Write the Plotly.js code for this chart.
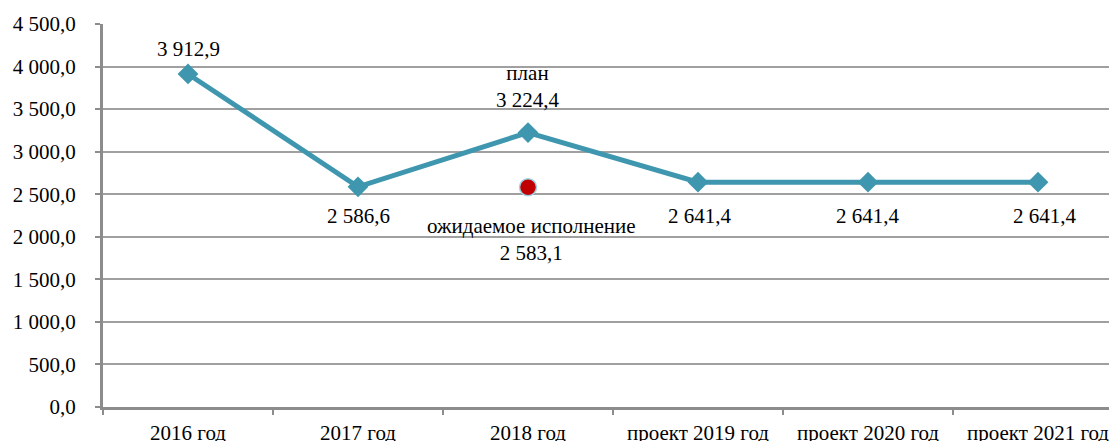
<!DOCTYPE html>
<html>
<head>
<meta charset="utf-8">
<script src="https://cdn.plot.ly/plotly-3.0.1.min.js"></script>
<style>
  html, body { margin: 0; padding: 0; background: #fff; }
  #chart { width: 1109px; height: 441px; }
</style>
</head>
<body>
<div id="chart"></div>
<script>
// ---- data ----
const categories = ["2016 год", "2017 год", "2018 год", "проект 2019 год", "проект 2020 год", "проект 2021 год"];
const planValues = [3912.9, 2586.6, 3224.4, 2641.4, 2641.4, 2641.4];
const expectedCategory = ["2018 год"];
const expectedValues = [2583.1];
const yTickVals = [0, 500, 1000, 1500, 2000, 2500, 3000, 3500, 4000, 4500];
const yTickText = ["0,0", "500,0", "1 000,0", "1 500,0", "2 000,0", "2 500,0", "3 000,0", "3 500,0", "4 000,0", "4 500,0"];
const planPrefix = ["", "", "план", "", "", ""];
const expectedPrefix = ["ожидаемое исполнение"];

function fmt(v) {
  const s = v.toFixed(1);
  let [i, d] = s.split(".");
  i = i.replace(/\B(?=(\d{3})+(?!\d))/g, " ");
  return i + "," + d;
}

const FONT = "Liberation Serif";
const LINE = "#3F97AF";

const planShift = [25, -29, 46, -34, -34, -34];
const planXShift = [0, 0, 0, 2, 0, 7];
const annotations = [];
categories.forEach((c, i) => {
  const txt = planPrefix[i] ? planPrefix[i] + "<br>" + fmt(planValues[i]) : fmt(planValues[i]);
  annotations.push({
    x: c, y: planValues[i], xref: "x", yref: "y",
    text: txt, showarrow: false,
    yshift: planShift[i], xshift: planXShift[i],
    xanchor: "center", yanchor: "middle",
    font: { family: FONT, size: 21, color: "#000" }
  });
});
expectedCategory.forEach((c, i) => {
  annotations.push({
    x: c, y: expectedValues[i], xref: "x", yref: "y",
    text: expectedPrefix[i] + "<br>" + fmt(expectedValues[i]), showarrow: false,
    yshift: -52, xshift: 3,
    xanchor: "center", yanchor: "middle",
    font: { family: FONT, size: 21, color: "#000" }
  });
});

const traces = [
  {
    type: "scatter", mode: "lines+markers",
    x: categories, y: planValues,
    line: { color: LINE, width: 5 },
    marker: { symbol: "diamond", size: 16, color: LINE },
    hoverinfo: "skip", showlegend: false, cliponaxis: false
  },
  {
    type: "scatter", mode: "markers",
    x: expectedCategory, y: expectedValues,
    marker: { symbol: "circle", size: 17, color: "#C00000", line: { color: "#9FD3E6", width: 1.5 } },
    hoverinfo: "skip", showlegend: false, cliponaxis: false
  }
];

const layout = {
  width: 1109, height: 441,
  margin: { l: 103, r: 0, t: 24, b: 34, pad: 0 },
  paper_bgcolor: "#fff", plot_bgcolor: "#fff",
  showlegend: false,
  font: { family: FONT, size: 21, color: "#000" },
  xaxis: {
    type: "category",
    categoryorder: "array", categoryarray: categories,
    range: [-0.5, 5.4176],
    showgrid: false, zeroline: false,
    showline: true, linecolor: "#8C8C8C", linewidth: 3,
    ticks: "outside", ticklen: 5, tickwidth: 2, tickcolor: "#8C8C8C",
    tickson: "boundaries",
    ticklabelstandoff: 5,
    tickfont: { family: FONT, size: 21, color: "#000" },
    automargin: false, fixedrange: true
  },
  yaxis: {
    range: [0, 4500],
    tickvals: yTickVals, ticktext: yTickText,
    showgrid: true, gridcolor: "#A0A0A0", gridwidth: 2,
    zeroline: false,
    showline: true, linecolor: "#8C8C8C", linewidth: 3,
    ticks: "outside", ticklen: 5, tickwidth: 2, tickcolor: "#8C8C8C",
    ticklabelstandoff: 15,
    tickfont: { family: FONT, size: 21, color: "#000" },
    automargin: false, fixedrange: true
  },
  annotations: annotations
};

Plotly.newPlot("chart", traces, layout, { staticPlot: true, displayModeBar: false });
</script>
</body>
</html>
